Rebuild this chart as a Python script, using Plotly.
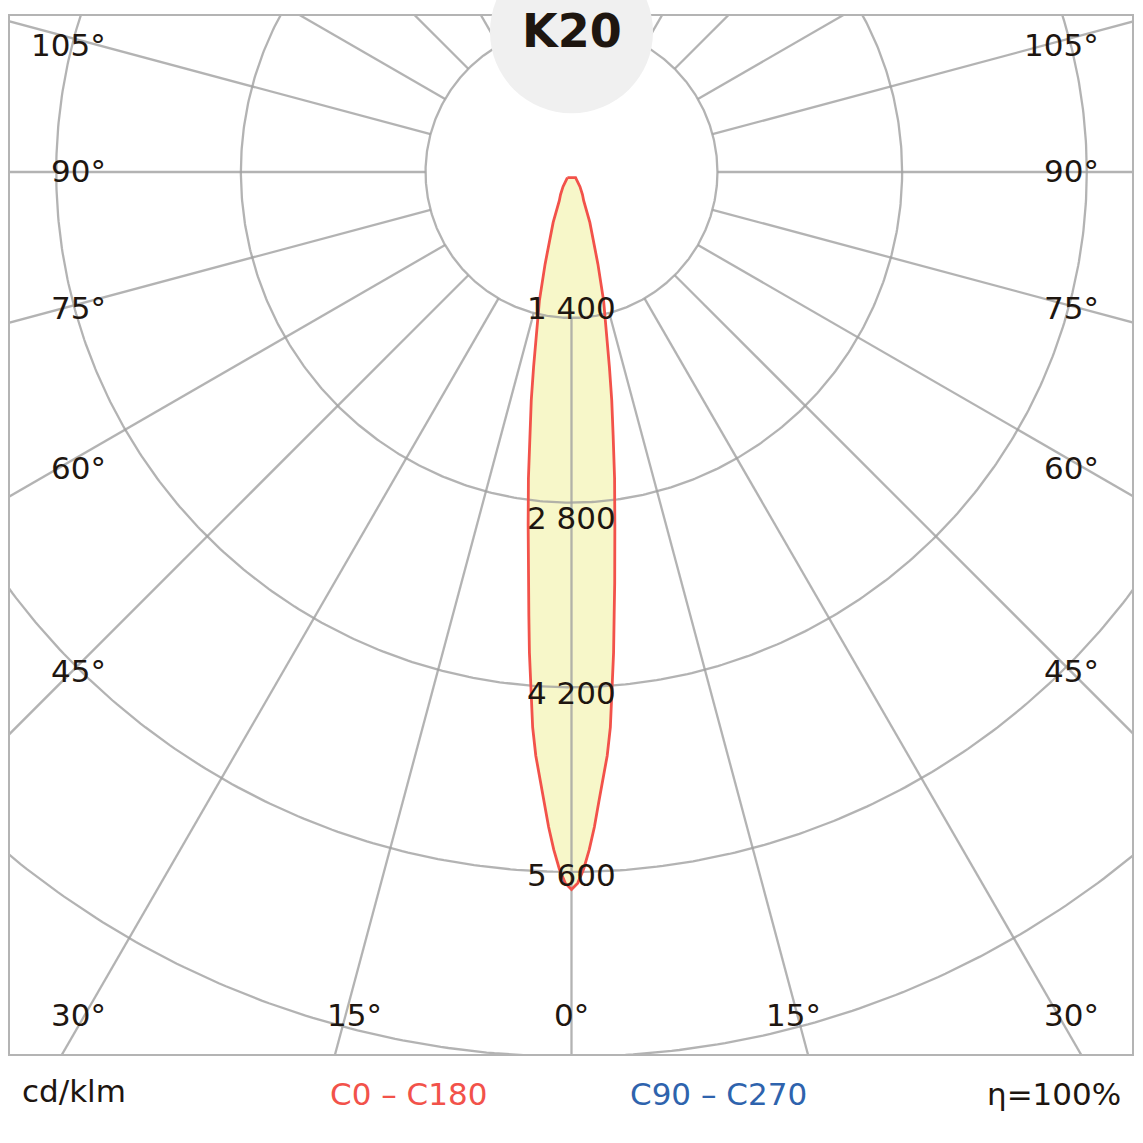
import math
import plotly.graph_objects as go

# ---------------- data ----------------
title_text = "K20"
angles_deg = [0, 0.5, 1, 1.5, 2, 2.5, 3, 3.5, 4, 4.5, 5, 5.5, 6, 7, 8, 9, 10, 11, 12,
              14, 16, 18, 20, 23, 26, 30, 33, 36]
c0_c180 = [5733, 5685, 5578, 5433, 5263, 5066, 4893, 4727, 4515, 4236, 3953, 3668,
           3427, 2990, 2640, 2310, 2050, 1800, 1590, 1300, 1020, 832, 700, 530,
           483, 422, 377, 346]
radial_ticks = [1400, 2800, 4200, 5600, 7000]
radial_tick_labels = ["1 400", "2 800", "4 200", "5 600"]
grid_angles = list(range(0, 360, 15))
side_angle_labels = ["105°", "90°", "75°", "60°", "45°", "30°"]
bottom_angle_labels = ["15°", "0°", "15°"]
unit_label = "cd/klm"
legend_c0 = "C0 – C180"
legend_c90 = "C90 – C270"
efficiency_label = "η=100%"

# ---------------- scale (radial mapping, px per cd, zero offset) ----------------
PX_PER_CD = 0.1319
CD_AT_CENTER = 293.4
INNER_R = (radial_ticks[0] - CD_AT_CENTER) * PX_PER_CD


def rad(v):
    return max(0.0, (v - CD_AT_CENTER) * PX_PER_CD)


def to_xy(theta_deg, v):
    r = rad(v)
    t = math.radians(theta_deg)
    return r * math.sin(t), -r * math.cos(t)


# canvas geometry
W = H = 1143
ML, MR, MT, MB = 10, 11, 16, 89
CX, CY = 571.5, 172.0
PW, PH = W - ML - MR, H - MT - MB


def px(x, y):
    return (x - ML) / PW, (H - MB - y) / PH


TXT = "#1e1610"
GRID = "rgba(160,160,160,0.8)"
RED = "#f2524a"
BLUE = "#2e63ad"
FONT = "DejaVu Sans"

# curve points (C180 mirrored on left, C0 on right)
thetas = [-a for a in reversed(angles_deg)] + angles_deg[1:]
vals = list(reversed(c0_c180)) + c0_c180[1:]
cx, cy = [], []
for t, v in zip(thetas, vals):
    x, y = to_xy(t, v)
    cx.append(x)
    cy.append(y)
cx.append(cx[0])
cy.append(cy[0])

fig = go.Figure()

# fill
fig.add_trace(go.Scatter(x=cx, y=cy, mode="lines", fill="toself",
                         fillcolor="#f7f7c9", line=dict(width=0),
                         hoverinfo="skip", showlegend=False))

# grid circles
gx, gy = [], []
for v in radial_ticks:
    r = rad(v)
    for k in range(0, 721):
        a = math.radians(k / 2)
        gx.append(r * math.cos(a))
        gy.append(r * math.sin(a))
    gx.append(None)
    gy.append(None)
fig.add_trace(go.Scatter(x=gx, y=gy, mode="lines", line=dict(color=GRID, width=2.3),
                         hoverinfo="skip", showlegend=False))

# radial lines
lx, ly = [], []
for a in grid_angles:
    t = math.radians(a)
    for r in (INNER_R, 1600):
        lx.append(r * math.sin(t))
        ly.append(-r * math.cos(t))
    lx.append(None)
    ly.append(None)
fig.add_trace(go.Scatter(x=lx, y=ly, mode="lines", line=dict(color=GRID, width=2.3),
                         hoverinfo="skip", showlegend=False))

# C0-C180 curve
fig.add_trace(go.Scatter(x=cx, y=cy, mode="lines",
                         line=dict(color=RED, width=2.8),
                         hoverinfo="skip", showlegend=False))

annotations = []


def add_text(text, x, y, size=31, color=TXT, xanchor="center", bold=False):
    xp, yp = px(x, y)
    annotations.append(dict(text=f"<b>{text}</b>" if bold else text, x=xp, y=yp,
                            xref="paper", yref="paper", showarrow=False,
                            xanchor=xanchor, yanchor="middle",
                            font=dict(family=FONT, size=size, color=color)))


# radial labels
rad_label_y = [308, 518, 693, 875]
for lab, yy in zip(radial_tick_labels, rad_label_y):
    add_text(lab, CX, yy, size=31)

# side angle labels
side_y = [45, 171, 308, 468, 671, 1015]
for lab, yy in zip(side_angle_labels, side_y):
    add_text(lab, 108, yy, xanchor="right")
    add_text(lab, 1101, yy, xanchor="right")

# bottom angle labels
for lab, xx in zip(bottom_angle_labels, [354, 571.5, 793]):
    add_text(lab, xx, 1015)

# footer
add_text(unit_label, 20, 1091, size=31, xanchor="left")
add_text(legend_c0, 408, 1094, size=31, color=RED)
add_text(legend_c90, 718, 1094, size=31, color=BLUE)
add_text(efficiency_label, 1123, 1094, size=31, xanchor="right")

# title bubble + title
bcx, bcy = px(CX, 31.8)
rx, ry = 81.5 / PW, 81.5 / PH
shapes = [dict(type="circle", xref="paper", yref="paper",
               x0=bcx - rx, x1=bcx + rx, y0=bcy - ry, y1=bcy + ry,
               fillcolor="#f0f0f0", line=dict(width=0), layer="above")]
add_text(title_text, CX, 31, size=46, bold=True)

fig.update_layout(
    width=W, height=H,
    margin=dict(l=ML, r=MR, t=MT, b=MB),
    paper_bgcolor="white", plot_bgcolor="white",
    xaxis=dict(range=[ML - CX, W - MR - CX], showgrid=False, zeroline=False,
               showticklabels=False, ticks="", showline=True, mirror=True,
               linecolor="#b4b4b4", linewidth=2, fixedrange=True),
    yaxis=dict(range=[CY - (H - MB), CY - MT], showgrid=False, zeroline=False,
               showticklabels=False, ticks="", showline=True, mirror=True,
               linecolor="#b4b4b4", linewidth=2, fixedrange=True),
    annotations=annotations,
    shapes=shapes,
    showlegend=False,
)

fig.write_html("out.html")
